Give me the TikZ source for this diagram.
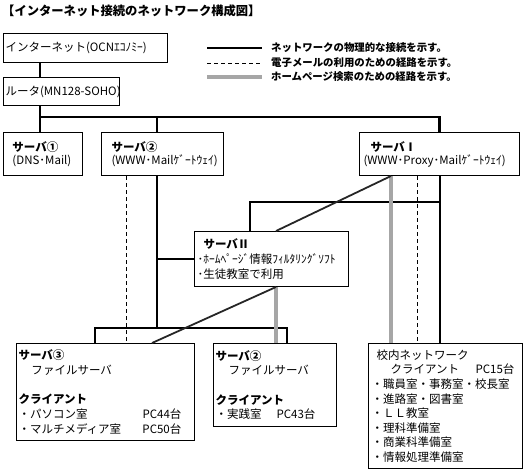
\documentclass[tikz,border=0pt]{standalone}
\usepackage{fontspec}
\setmainfont{Noto Sans CJK JP}
\usepackage{tikz}

\newcommand\bxfont{\fontsize{11.5}{14.6}\selectfont}
\newcommand\svfont{\fontsize{11.5}{13}\selectfont}
\newcommand\lgfont{\fontsize{10.4}{12}\selectfont\bfseries}
\newcommand\ttlfont{\fontsize{12.3}{14}\selectfont\bfseries}

\begin{document}
\begin{tikzpicture}[x=1pt, y=-1pt,
	box/.style={draw, line width=1pt, anchor=north west, align=left, inner ysep=0pt, font=\bxfont},
	net/.style={line width=2.4pt},
	mail/.style={line width=1pt, dash pattern=on 4pt off 3pt},
	web/.style={line width=3.2pt, draw=black!35},
	webslant/.style={line width=1.8pt, draw=black!85},
	legendtext/.style={anchor=west, inner sep=0pt, font=\lgfont}]
	\useasboundingbox (0,0) rectangle (526,472);

	% title and legend
	\node [anchor=west, inner sep=0pt, font=\ttlfont] (title) at (2,11) {【インターネット接続のネットワーク構成図】};
	\node [legendtext] (l1) at (271,48) {ネットワークの物理的な接続を示す。};
	\node [legendtext] (l2) at (271,63) {電子メールの利用のための経路を示す。};
	\node [legendtext] (l3) at (271,77) {ホームページ検索のための経路を示す。};
	\coordinate (k1) at (207,48);
	\coordinate (k2) at (207,63);
	\coordinate (k3) at (207,77);
	\draw [net] (k1) -- +(55,0);
	\draw [mail] (k2) -- +(55,0);
	\draw [web] (k3) -- +(55,0);

	% boxes
	\node [box, text width=160, inner xsep=2, minimum height=29] (inet) at (3,33) {\mbox{インターネット(OCNｴｺﾉﾐｰ)}};
	\node [box, text width=112, inner xsep=2, minimum height=28] (router) at (3,77) {\mbox{ルータ(MN128-SOHO)}};
	\node [box, font=\svfont, text width=61, inner xsep=9, minimum height=43] (srv1) at (3,132) {\textbf{サーバ①}\\\mbox{(DNS･Mail)}};
	\node [box, font=\svfont, text width=102, inner xsep=10, minimum height=43] (srv2) at (101,132) {\textbf{サーバ②}\\\mbox{(WWW･Mailｹﾞｰﾄｳｪｲ)}};
	\node [box, font=\svfont, text width=152, inner xsep=4, minimum height=43] (srvI) at (359,132) {\hspace*{7pt}\textbf{サーバⅠ}\\\mbox{(WWW･Proxy･Mailｹﾞｰﾄｳｪｲ)}};
	\node [box, text width=148, inner xsep=3, minimum height=55] (srvII) at (194,231) {\hspace*{6pt}\textbf{サーバⅡ}\\･ﾎｰﾑﾍﾟｰｼﾞ情報ﾌｨﾙﾀﾘﾝｸﾞｿﾌﾄ\\･生徒教室で利用};
	\node [box, text width=174, inner xsep=2, minimum height=97] (f3) at (16,343) {\textbf{サーバ③}\\\hspace*{13pt}ファイルサーバ\\[15pt]\textbf{クライアント}\\\makebox[124pt][l]{・パソコン室}PC44台\\\makebox[124pt][l]{・マルチメディア室}PC50台};
	\node [box, text width=119, inner xsep=2, minimum height=83] (f2) at (213,343) {\textbf{サーバ②}\\\hspace*{13pt}ファイルサーバ\\[15pt]\textbf{クライアント}\\\makebox[61pt][l]{・実践室}PC43台};
	\node [box, text width=148, inner xsep=3, minimum height=125] (lan) at (368,343) {\hspace*{5pt}校内ネットワーク\\\hspace*{19pt}\makebox[85pt][l]{クライアント}PC15台\\・職員室・事務室・校長室\\・進路室・図書室\\・ＬＬ教室\\・理科準備室\\・商業科準備室\\・情報処理準備室};

	% physical links
	\coordinate (up) at (40,117);
	\coordinate (mid) at (157,117);
	\coordinate (low) at (95,328);
	\coordinate (lowR) at (287,328);
	\coordinate (hub) at (440,202);
	\coordinate (hubL) at (250,202);
	\draw [net] (inet.south -| up) -- (router.north -| up);
	\draw [net] (router.south -| up) -- (up) -| (srvI.north);
	\draw [net] (up) -- (srv1.north -| up);
	\draw [net] (mid) -- (srv2.north -| mid);
	\draw [net] (srv2.south -| mid) -- (mid |- low);
	\draw [net] (f3.north -| low) -- (low) -| (f2.north -| lowR);
	\draw [net] (srvII.west) -- (srvII.west -| mid);
	\draw [net] (srvI.south -| hub) -- (lan.north -| hub);
	\draw [net] (hub) -- (hubL) -- (srvII.north -| hubL);

	% mail routes
	\coordinate (ml1) at (126,0);
	\coordinate (ml2) at (417,0);
	\draw [mail] (srv2.south -| ml1) -- (f3.north -| ml1);
	\draw [mail] (srvI.south -| ml2) -- (lan.north -| ml2);

	% homepage routes
	\coordinate (hp1) at (391,0);
	\coordinate (hp2) at (276,0);
	\coordinate (hp3) at (152,0);
	\draw [web] (srvI.south -| hp1) -- (lan.north -| hp1);
	\draw [web] (srvII.south -| hp2) -- (f2.north -| hp2);
	\draw [webslant] (srvI.south -| hp1) -- (srvII.north -| hp2);
	\draw [webslant] (srvII.south -| hp2) -- (f3.north -| hp3);
\end{tikzpicture}
\end{document}
